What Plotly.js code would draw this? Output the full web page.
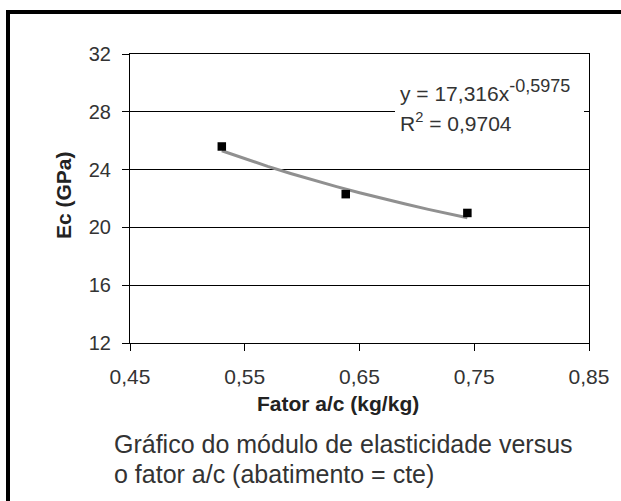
<!DOCTYPE html>
<html>
<head>
<meta charset="utf-8">
<script src="https://cdn.plot.ly/plotly-3.0.1.min.js"></script>
<style>html,body{margin:0;padding:0;background:#fff;}#chart{width:621px;height:501px;}</style>
</head>
<body>
<div id="chart"></div>
<script>
// Data
const waterCementRatio = [0.53, 0.638, 0.744];
const elasticModulus = [25.6, 22.3, 21.0];
// Power trendline shown on the chart: y = 17,316 x^-0,5975
const trendCoefA = 17.316;
const trendExpB = -0.5975;
const trendX = [0.53, 0.55, 0.57, 0.59, 0.61, 0.63, 0.65, 0.67, 0.69, 0.71, 0.73, 0.744];
const xTickVals = [0.45, 0.55, 0.65, 0.75, 0.85];
const xTickText = ['0,45', '0,55', '0,65', '0,75', '0,85'];
const yTickVals = [12, 16, 20, 24, 28, 32];

const trendY = trendX.map(x => trendCoefA * Math.pow(x, trendExpB));

const font = 'Liberation Sans, Arial, sans-serif';
const L = 130, R = 589, T = 54, B = 343;
const px = v => (v - L) / (R - L);
const py = v => (B - v) / (B - T);

const traces = [
  {x: trendX, y: trendY, mode: 'lines', line: {color: '#909090', width: 3}, hoverinfo: 'skip', showlegend: false},
  {x: waterCementRatio, y: elasticModulus, mode: 'markers', marker: {symbol: 'square', size: 8.5, color: '#000'}, showlegend: false}
];

const layout = {
  width: 621, height: 501,
  margin: {l: L, r: 621 - R, t: T, b: 501 - B, pad: 0},
  paper_bgcolor: '#fff', plot_bgcolor: '#fff',
  separators: ',.',
  showlegend: false,
  font: {family: font, color: '#222'},
  xaxis: {
    range: [0.45, 0.85], tickvals: xTickVals, ticktext: xTickText,
    showgrid: false, zeroline: false, showline: true, mirror: true,
    linecolor: '#000', linewidth: 1, ticks: 'outside', ticklen: 7, tickcolor: '#000',
    ticklabelstandoff: 8,
    tickfont: {family: font, size: 21, color: '#333'}
  },
  yaxis: {
    range: [12, 32], tickvals: yTickVals,
    showgrid: true, gridcolor: '#000', gridwidth: 1, zeroline: false,
    showline: true, mirror: true, linecolor: '#000', linewidth: 1,
    ticks: 'outside', ticklen: 7, tickcolor: '#000', ticklabelstandoff: 7,
    tickfont: {family: font, size: 20, color: '#333'}
  },
  annotations: [
    {xref: 'paper', yref: 'paper', x: px(398), y: py(102), xanchor: 'left', yanchor: 'bottom',
     text: 'y = 17,316x<sup><span style="font-size:18px">-0,5975</span></sup>', align: 'left', showarrow: false, yshift: -5,
     font: {family: font, size: 21, color: '#333'}},
    {xref: 'paper', yref: 'paper', x: px(398), y: py(132), xanchor: 'left', yanchor: 'bottom',
     text: 'R<sup>2</sup> = 0,9704', align: 'left', showarrow: false, yshift: -5,
     font: {family: font, size: 21, color: '#333'}},
    {xref: 'paper', yref: 'paper', x: px(338), y: py(403), xanchor: 'center', yanchor: 'middle',
     text: '<b>Fator a/c (kg/kg)</b>', showarrow: false, font: {family: font, size: 21, color: '#222'}},
    {xref: 'paper', yref: 'paper', x: px(63), y: py(195), xanchor: 'center', yanchor: 'middle', textangle: -90,
     text: '<b>Ec (GPa)</b>', showarrow: false, font: {family: font, size: 21, color: '#222'}},
    {xref: 'paper', yref: 'paper', x: px(112), y: py(455), xanchor: 'left', yanchor: 'bottom',
     text: 'Gráfico do módulo de elasticidade versus', showarrow: false, yshift: -5,
     font: {family: font, size: 25, color: '#333'}},
    {xref: 'paper', yref: 'paper', x: px(112), y: py(485), xanchor: 'left', yanchor: 'bottom',
     text: 'o fator a/c (abatimento = cte)', showarrow: false, yshift: -5,
     font: {family: font, size: 25, color: '#333'}}
  ],
  shapes: [
    {type: 'rect', xref: 'paper', yref: 'paper', layer: 'above', x0: px(395), x1: px(584), y0: py(62), y1: py(140),
     fillcolor: '#fff', line: {width: 0}},
    {type: 'line', xref: 'paper', yref: 'paper', x0: px(8), x1: px(8), y0: py(10), y1: py(505), line: {color: '#000', width: 4}},
    {type: 'line', xref: 'paper', yref: 'paper', x0: px(6), x1: px(625), y0: py(12), y1: py(12), line: {color: '#000', width: 4}}
  ]
};

Plotly.newPlot('chart', traces, layout, {staticPlot: true, displayModeBar: false});
</script>
</body>
</html>
